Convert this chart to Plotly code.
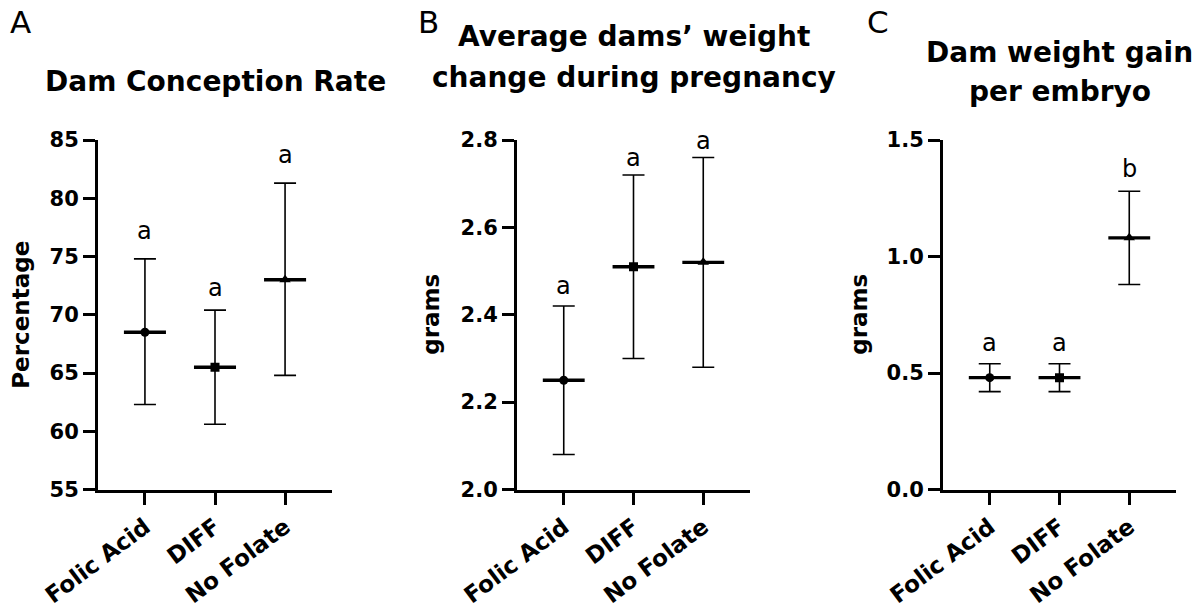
import plotly.graph_objects as go

# Groups shared by all three panels
categories = ["Folic Acid", "DIFF", "No Folate"]
symbols = ["circle", "square", "triangle-up"]
marker_sizes = [9, 9, 10]

# Panel A: dam conception rate (%)
conc_mean = [68.5, 65.5, 73.0]
conc_upper = [74.8, 70.4, 81.3]
conc_lower = [62.3, 60.6, 64.8]
conc_letters = ["a", "a", "a"]
conc_ticks = [55, 60, 65, 70, 75, 80, 85]

# Panel B: average dam weight change during pregnancy (g)
weight_mean = [2.25, 2.51, 2.52]
weight_upper = [2.42, 2.72, 2.76]
weight_lower = [2.08, 2.30, 2.28]
weight_letters = ["a", "a", "a"]
weight_ticks = [2.0, 2.2, 2.4, 2.6, 2.8]

# Panel C: dam weight gain per embryo (g)
gain_mean = [0.48, 0.48, 1.08]
gain_upper = [0.54, 0.54, 1.28]
gain_lower = [0.42, 0.42, 0.88]
gain_letters = ["a", "a", "b"]
gain_ticks = [0.0, 0.5, 1.0, 1.5]

W, H = 1200, 613
FONT = "DejaVu Sans"

panels = [
    dict(mean=conc_mean, upper=conc_upper, lower=conc_lower, letters=conc_letters,
         ticks=conc_ticks, fmt="d", xdom=(98, 332), title=["Dam Conception Rate"],
         title_y=[82], ytitle="Percentage", ytitle_x=21, tag="A", tag_x=8,
         gaps=[20, 14, 20]),
    dict(mean=weight_mean, upper=weight_upper, lower=weight_lower, letters=weight_letters,
         ticks=weight_ticks, fmt=".1f", xdom=(517, 750),
         title=["Average dams\u2019 weight", "change during pregnancy"],
         title_y=[37, 77], ytitle="grams", ytitle_x=431, tag="B", tag_x=416,
         gaps=[12, 9, 8]),
    dict(mean=gain_mean, upper=gain_upper, lower=gain_lower, letters=gain_letters,
         ticks=gain_ticks, fmt=".1f", xdom=(943, 1176),
         title=["Dam weight gain", "per embryo"],
         title_y=[52, 91], ytitle="grams", ytitle_x=859, tag="C", tag_x=865,
         gaps=[12, 12, 14]),
]

PLOT_TOP, PLOT_BOTTOM = 140, 489.5
ydom = [1 - PLOT_BOTTOM / H, 1 - PLOT_TOP / H]

fig = go.Figure()
annotations = []

for p_i, p in enumerate(panels):
    suffix = "" if p_i == 0 else str(p_i + 1)
    xref, yref = "x" + suffix, "y" + suffix
    for i, cat in enumerate(categories):
        m = p["mean"][i]
        fig.add_trace(go.Scatter(
            x=[i], y=[m], mode="markers", xaxis=xref, yaxis=yref, showlegend=False,
            marker=dict(symbol=symbols[i], size=marker_sizes[i], color="black"),
            error_y=dict(type="data", symmetric=False,
                         array=[p["upper"][i] - m], arrayminus=[m - p["lower"][i]],
                         color="black", thickness=1.6, width=11),
            error_x=dict(type="data", array=[0.3], color="black", thickness=3.4, width=0),
        ))
        # significance letter above the upper whisker
        annotations.append(dict(
            x=i, y=p["upper"][i], xref=xref, yref=yref, text=p["letters"][i],
            showarrow=False, yanchor="middle", yshift=p["gaps"][i] + 8.3,
            font=dict(family=FONT, size=24, color="black"),
        ))

    x0, x1 = p["xdom"]
    fig.update_layout(**{
        "xaxis" + suffix: dict(
            domain=[x0 / W, x1 / W], range=[-0.67, 2.67], anchor=yref, automargin=False,
            tickmode="array", tickvals=[0, 1, 2], ticktext=categories, tickangle=-37,
            showline=True, linewidth=3, linecolor="black", ticks="outside",
            ticklen=12, tickwidth=3, tickcolor="black", showgrid=False, zeroline=False,
            tickfont=dict(family=FONT, size=23, color="black", weight="bold"),
        ),
        "yaxis" + suffix: dict(
            domain=ydom, range=[p["ticks"][0], p["ticks"][-1]], anchor=xref, automargin=False,
            tickmode="array", tickvals=p["ticks"], tickformat=p["fmt"],
            showline=True, linewidth=3, linecolor="black", ticks="outside",
            ticklen=12, tickwidth=3, tickcolor="black", showgrid=False, zeroline=False,
            tickfont=dict(family=FONT, size=21, color="black", weight="bold"),
        ),
    })

    cx = (x0 + x1) / 2
    for line, ty in zip(p["title"], p["title_y"]):
        annotations.append(dict(
            x=cx / W, y=1 - ty / H, xref="paper", yref="paper", text=line,
            showarrow=False, xanchor="center", yanchor="middle",
            font=dict(family=FONT, size=28, color="black", weight="bold"),
        ))
    annotations.append(dict(
        x=p["ytitle_x"] / W, y=1 - (PLOT_TOP + PLOT_BOTTOM) / 2 / H, xref="paper", yref="paper",
        text=p["ytitle"], textangle=-90, showarrow=False, xanchor="center", yanchor="middle",
        font=dict(family=FONT, size=23, color="black", weight="bold"),
    ))
    annotations.append(dict(
        x=p["tag_x"] / W, y=1 - 22 / H, xref="paper", yref="paper", text=p["tag"],
        showarrow=False, xanchor="left", yanchor="middle",
        font=dict(family=FONT, size=31, color="black"),
    ))

fig.update_layout(
    width=W, height=H, autosize=False,
    margin=dict(l=0, r=0, t=0, b=0, autoexpand=False),
    paper_bgcolor="white", plot_bgcolor="white",
    annotations=annotations,
)

fig.write_html("out.html")
